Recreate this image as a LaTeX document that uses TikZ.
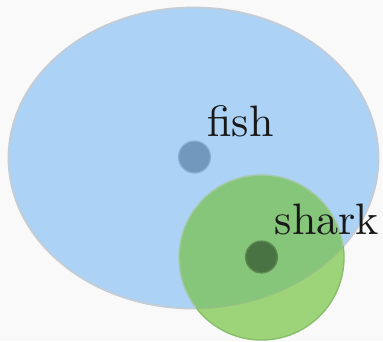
\documentclass[tikz,border=0pt]{standalone}
\usepackage{fontspec}
\newfontfamily\lmten[Extension=.otf]{lmroman10-regular}
\begin{document}
\begin{tikzpicture}[x=1pt,y=-1pt,
  lbl/.style={anchor=base west,inner sep=0pt,font=\lmten\fontsize{44}{50}\selectfont,text=black!90}]
\definecolor{bgc}{HTML}{F9F9F9}
\definecolor{bluef}{HTML}{ACD2F5}
\definecolor{bluee}{HTML}{C4CCD6}
\definecolor{greenf}{HTML}{9ED479}
\definecolor{greeno}{HTML}{86C67A}
\definecolor{greene}{HTML}{88BE6C}
\definecolor{fishc}{HTML}{7099BD}
\definecolor{sharkc}{HTML}{4A7343}
\fill[bgc] (0,0) rectangle (383,341);
\useasboundingbox (0,0) rectangle (383,341);
% big ellipse
\path[draw=bluee,fill=bluef,line width=1.8pt] (193.5,158) ellipse [x radius=185,y radius=150.5];
% green circle
\path[fill=greenf] (261.5,257.5) circle [radius=82.5];
\begin{scope}
\clip (193.5,158) ellipse [x radius=185,y radius=150.5];
\path[fill=greeno] (261.5,257.5) circle [radius=82.5];
\end{scope}
\begin{scope}
\clip (261.5,257.5) circle [radius=82.5];
\draw[greene!80!bluee,line width=1.4pt] (193.5,158) ellipse [x radius=185,y radius=150.5];
\end{scope}
\begin{scope}
\clip (193.5,158) ellipse [x radius=185,y radius=150.5];
\draw[bluee!50!greeno,line width=1.4pt] (261.5,257.5) circle [radius=82.5];
\end{scope}
\begin{scope}
\clip (-10,-10) rectangle (400,400) (193.5,158) ellipse [x radius=185,y radius=150.5];
\draw[greene,line width=1.4pt,even odd rule] (261.5,257.5) circle [radius=82.5];
\end{scope}
% dots
\node[circle,fill=fishc,draw=fishc!60!bluef,line width=1.2pt,minimum size=32pt,inner sep=0pt] (fishdot) at (194.5,157) {};
\node[circle,fill=sharkc,draw=sharkc!70!greeno,line width=1.2pt,minimum size=32pt,inner sep=0pt] (sharkdot) at (261.5,257) {};
\node[lbl] (fish) at (207,136) {fish};
\node[lbl] (shark) at (274.5,234) {shark};
\end{tikzpicture}
\end{document}
